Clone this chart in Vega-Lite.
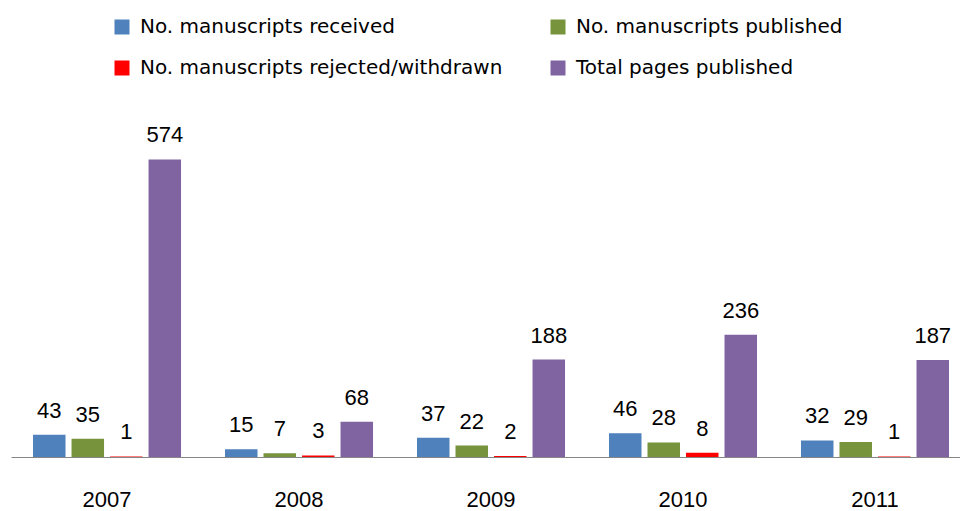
{
  "$schema": "https://vega.github.io/schema/vega-lite/v6.json",
  "autosize": {"type": "none"},
  "width": 949,
  "height": 311,
  "padding": {"left": 11, "top": 146, "right": 0, "bottom": 54},
  "background": "white",
  "config": {"view": {"stroke": null}},
  "data": {"values": [
    {"year": "2007", "series": "No. manuscripts received", "value": 43},
    {"year": "2007", "series": "No. manuscripts published", "value": 35},
    {"year": "2007", "series": "No. manuscripts rejected/withdrawn", "value": 1},
    {"year": "2007", "series": "Total pages published", "value": 574},
    {"year": "2008", "series": "No. manuscripts received", "value": 15},
    {"year": "2008", "series": "No. manuscripts published", "value": 7},
    {"year": "2008", "series": "No. manuscripts rejected/withdrawn", "value": 3},
    {"year": "2008", "series": "Total pages published", "value": 68},
    {"year": "2009", "series": "No. manuscripts received", "value": 37},
    {"year": "2009", "series": "No. manuscripts published", "value": 22},
    {"year": "2009", "series": "No. manuscripts rejected/withdrawn", "value": 2},
    {"year": "2009", "series": "Total pages published", "value": 188},
    {"year": "2010", "series": "No. manuscripts received", "value": 46},
    {"year": "2010", "series": "No. manuscripts published", "value": 28},
    {"year": "2010", "series": "No. manuscripts rejected/withdrawn", "value": 8},
    {"year": "2010", "series": "Total pages published", "value": 236},
    {"year": "2011", "series": "No. manuscripts received", "value": 32},
    {"year": "2011", "series": "No. manuscripts published", "value": 29},
    {"year": "2011", "series": "No. manuscripts rejected/withdrawn", "value": 1},
    {"year": "2011", "series": "Total pages published", "value": 187}
  ]},
  "encoding": {
    "x": {
      "field": "year", "type": "nominal",
      "scale": {"paddingInner": 0.229, "paddingOuter": 0.086, "align": 0.667},
      "axis": {
        "title": null, "orient": "bottom", "labelAngle": 0,
        "ticks": false, "tickSize": 0,
        "domainColor": "#868686", "domainWidth": 1,
        "labelFont": "Liberation Sans", "labelFontSize": 22, "labelColor": "#000000",
        "labelBaseline": "alphabetic", "labelPadding": 49
      }
    },
    "xOffset": {
      "field": "series", "type": "nominal",
      "sort": ["No. manuscripts received", "No. manuscripts published", "No. manuscripts rejected/withdrawn", "Total pages published"],
      "scale": {"paddingInner": 0.156, "paddingOuter": 0}
    },
    "y": {
      "field": "value", "type": "quantitative",
      "scale": {"domain": [0, 600], "nice": false, "zero": true},
      "axis": null
    }
  },
  "layer": [
    {
      "mark": {"type": "bar"},
      "encoding": {
        "color": {
          "field": "series", "type": "nominal",
          "sort": ["No. manuscripts received", "No. manuscripts published", "No. manuscripts rejected/withdrawn", "Total pages published"],
          "scale": {
            "domain": ["No. manuscripts received", "No. manuscripts published", "No. manuscripts rejected/withdrawn", "Total pages published"],
            "range": ["#4F81BD", "#77933C", "#FF0000", "#8064A2"]
          },
          "legend": {
            "title": null, "orient": "none", "legendX": 101, "legendY": -129,
            "direction": "horizontal", "columns": 2, "columnPadding": 45, "rowPadding": 21,
            "symbolType": "square", "symbolSize": 225, "symbolStrokeWidth": 0,
            "labelFont": "DejaVu Sans", "labelFontSize": 20, "labelColor": "#000000",
            "labelOffset": 8, "labelLimit": 500
          }
        }
      }
    },
    {
      "mark": {"type": "text", "dy": -17, "baseline": "alphabetic", "align": "center", "font": "Liberation Sans", "fontSize": 22, "color": "#000000"},
      "encoding": {
        "text": {"field": "value", "type": "quantitative"}
      }
    }
  ]
}
